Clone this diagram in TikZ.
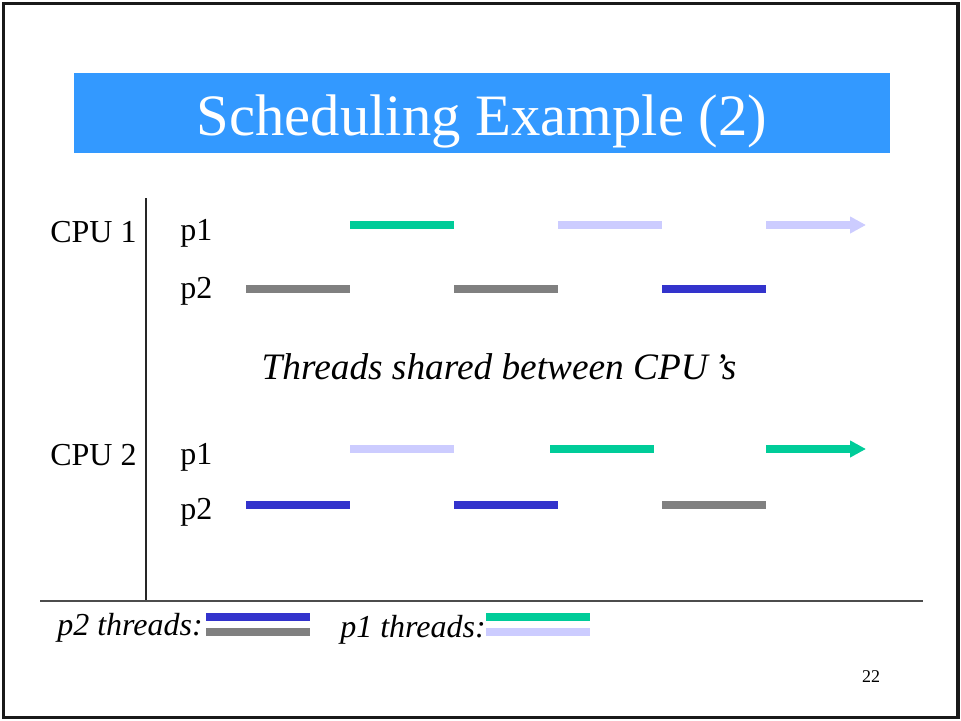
\documentclass[tikz,border=0pt]{standalone}
\usepackage{fontspec}
\setmainfont{Liberation Serif}
\usetikzlibrary{arrows.meta}
\definecolor{titleblue}{HTML}{3399FF}
\definecolor{pgreen}{HTML}{00CC99}
\definecolor{plav}{HTML}{CCCCFF}
\definecolor{pgray}{HTML}{808080}
\definecolor{pblue}{HTML}{3333CC}
\begin{document}
\begin{tikzpicture}[x=0.75pt,y=-0.75pt,
  bar/.style={line width=6pt},
  arrowbar/.style={line width=6pt,-{Triangle[length=12pt,width=12pt]}},
  lbl/.style={anchor=base west,inner sep=0pt,font=\fontsize{24}{28}\selectfont},
  axis/.style={line width=1pt,black!85}]
\useasboundingbox (0,0) rectangle (961,721);
\draw[line width=2.4pt,black!90] (3.5,3.5) rectangle (958,717.5);
\fill[titleblue] (74,73) rectangle (890,153);
\node[anchor=base,inner sep=0pt,text=white,font=\fontsize{44}{50}\selectfont] (title) at (482,135) {Scheduling Example (2)};
% axes
\coordinate (vtop) at (146,198);
\coordinate (vbot) at (146,601);
\coordinate (hl) at (40,601);
\coordinate (hr) at (923,601);
\draw[axis] (vtop) -- (vbot);
\draw[axis,black!70,line width=1.2pt] (hl) -- (hr);
% labels
\node[lbl] (cpu1) at (50,242) {CPU 1};
\node[lbl] (c1p1) at (180,240) {p1};
\node[lbl] (c1p2) at (180,298) {p2};
\node[lbl] (cpu2) at (50,465) {CPU 2};
\node[lbl] (c2p1) at (180,464) {p1};
\node[lbl] (c2p2) at (180,519) {p2};
\node[anchor=base,inner sep=0pt,font=\fontsize{28}{32}\selectfont\itshape] (shared) at (499,379) {Threads shared between CPU\,’s};
% CPU1 p1
\draw[bar,pgreen] (350,225) -- (454,225);
\draw[bar,plav] (558,225) -- (662,225);
\draw[arrowbar,plav] (766,225) -- (866,225);
% CPU1 p2
\draw[bar,pgray] (246,289) -- (350,289);
\draw[bar,pgray] (454,289) -- (558,289);
\draw[bar,pblue] (662,289) -- (766,289);
% CPU2 p1
\draw[bar,plav] (350,449) -- (454,449);
\draw[bar,pgreen] (550,449) -- (654,449);
\draw[arrowbar,pgreen] (766,449) -- (866,449);
% CPU2 p2
\draw[bar,pblue] (246,505) -- (350,505);
\draw[bar,pblue] (454,505) -- (558,505);
\draw[bar,pgray] (662,505) -- (766,505);
% legend
\node[lbl,font=\fontsize{24}{28}\selectfont\itshape] (leg2) at (57,635) {p2 threads:};
\draw[bar,pblue] (206,617) -- (310,617);
\draw[bar,pgray] (206,632) -- (310,632);
\node[lbl,font=\fontsize{24}{28}\selectfont\itshape] (leg1) at (340,637) {p1 threads:};
\draw[bar,pgreen] (486,617) -- (590,617);
\draw[bar,plav] (486,632) -- (590,632);
% page number
\node[anchor=base,inner sep=0pt,font=\fontsize{13.5}{16}\selectfont] (pnum) at (871,682) {22};
\end{tikzpicture}
\end{document}
